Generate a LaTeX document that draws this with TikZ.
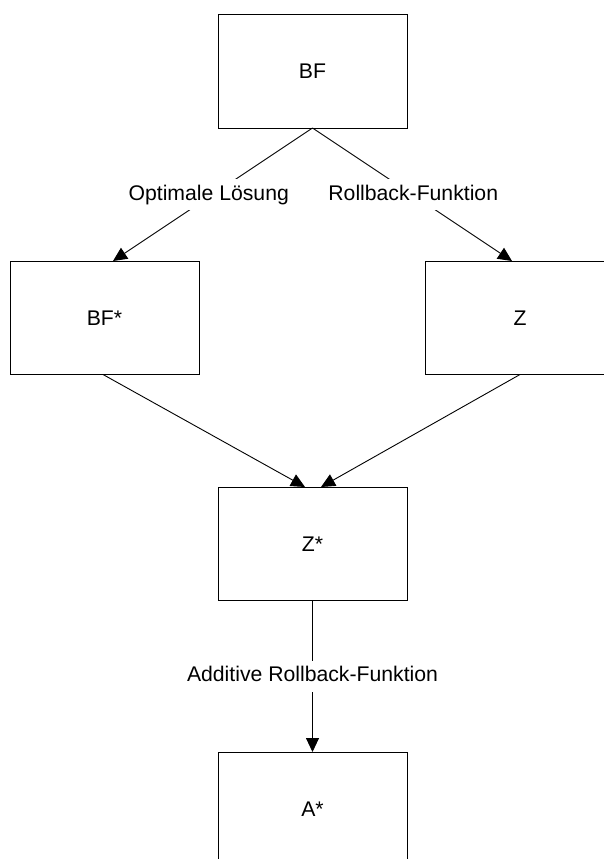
\documentclass[tikz,border=0pt]{standalone}
\usepackage{fontspec}
\setmainfont{Liberation Sans}
\usetikzlibrary{arrows.meta}

\tikzset{
  box/.style={draw=black, line width=1pt, fill=white, minimum width=189pt,
              minimum height=113.5pt, inner sep=0pt, outer sep=0pt},
  conn/.style={draw=black, line width=0.9pt},
  arr/.style={conn, -{Triangle[length=14pt, width=13pt]}},
  lbl/.style={fill=white, inner sep=5.5pt, text height=15.5pt, text depth=4.5pt},
}

\begin{document}
\begin{tikzpicture}[x=1pt, y=-1pt, font=\fontsize{21.2}{25}\selectfont]
  \useasboundingbox (0,0) rectangle (603,859);

  % boxes
  \node[box] (bf)    at (312.5, 71.25)  {BF};
  \node[box] (bfs)   at (104.5, 317.75) {BF*};
  \node[box] (z)     at (520,   317.75) {Z};
  \node[box] (zs)    at (312.5, 543.75) {Z*};
  \node[box] (as)    at (312.5, 808.75) {A*};

  % connectors
  \draw[arr] (bf.south) -- node[lbl, xshift=-4pt] {Optimale Lösung} ([xshift=8.5pt]bfs.north);
  \draw[arr] (bf.south) -- node[lbl, xshift=1pt] {Rollback-Funktion} ([xshift=-8pt]z.north);
  \draw[arr] ([xshift=-1.5pt]bfs.south) -- ([xshift=-7.5pt]zs.north);
  \draw[arr] (z.south) -- ([xshift=8.5pt]zs.north);
  \draw[arr] (zs.south) -- node[lbl] {Additive Rollback-Funktion} (as.north);
\end{tikzpicture}
\end{document}
